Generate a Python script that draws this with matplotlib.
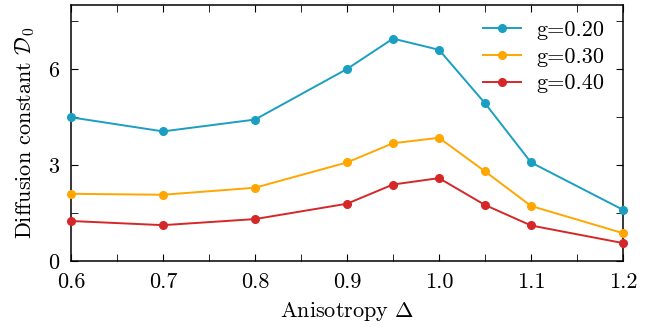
import numpy as np
import matplotlib
matplotlib.use("Agg")
import matplotlib.pyplot as plt
from matplotlib.ticker import MultipleLocator

plt.rcParams['font.family'] = 'serif'
plt.rcParams['font.serif'] = ['cmr10']
plt.rcParams['mathtext.fontset'] = 'cm'
plt.rcParams['axes.formatter.use_mathtext'] = True

# data
anisotropy = [0.6, 0.7, 0.8, 0.9, 0.95, 1.0, 1.05, 1.1, 1.2]
d_g020 = [4.49, 4.05, 4.42, 6.0, 6.95, 6.6, 4.93, 3.08, 1.6]
d_g030 = [2.1, 2.07, 2.29, 3.08, 3.68, 3.85, 2.8, 1.72, 0.87]
d_g040 = [1.25, 1.12, 1.31, 1.79, 2.39, 2.59, 1.75, 1.11, 0.56]
labels = ['g=0.20', 'g=0.30', 'g=0.40']
colors = ['#1a9ec2', '#ffa600', '#d62728']

fig = plt.figure(figsize=(6.67, 3.27), dpi=100)
ax = fig.add_axes([71/667, 1 - 261/327, 552/667, 256/327])

for ys, lab, c in zip([d_g020, d_g030, d_g040], labels, colors):
    ax.plot(anisotropy, ys, '-o', color=c, lw=1.4, ms=5.5, label=lab, clip_on=False, zorder=3)

ax.set_xlim(0.6, 1.2)
ax.set_ylim(0, 8)
ax.xaxis.set_major_locator(MultipleLocator(0.1))
ax.xaxis.set_minor_locator(MultipleLocator(0.05))
ax.yaxis.set_major_locator(MultipleLocator(3))
ax.yaxis.set_minor_locator(MultipleLocator(1.5))
ax.xaxis.set_major_formatter(plt.FuncFormatter(lambda v, p: f'{v:.1f}'))
ax.tick_params(which='both', direction='in', top=True, right=True, labelsize=16)
ax.tick_params(which='major', length=5, pad=8)
ax.tick_params(which='minor', length=5)
for s in ax.spines.values():
    s.set_linewidth(1.1)

ax.set_xlabel(r'Anisotropy $\Delta$', fontsize=16, labelpad=6)
ax.set_ylabel(r'Diffusion constant $\mathcal{D}_0$', fontsize=16, labelpad=8)
ax.legend(frameon=False, fontsize=16, loc='upper right', handlelength=1.7,
          borderaxespad=0.3, labelspacing=0.32, handletextpad=0.7,
          bbox_to_anchor=(0.995, 1.0))

fig.savefig('out.png', dpi=100)
